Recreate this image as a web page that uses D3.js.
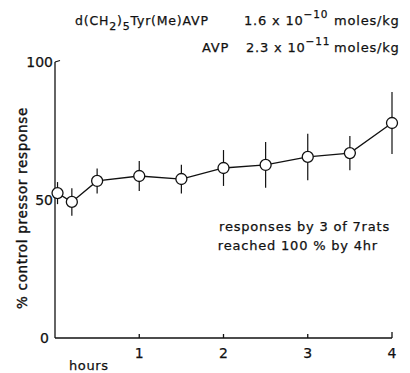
<!DOCTYPE html>
<html><head><meta charset="utf-8">
<script src="https://cdn.jsdelivr.net/npm/d3@7"></script>
<style>
body{margin:0;background:#fff;}
svg text{font-family:"DejaVu Sans",sans-serif;fill:#111;stroke:#111;stroke-width:0.25px;}
</style></head>
<body><div id="c"></div>
<script>
// data
const hours = [0.03, 0.2, 0.5, 1, 1.5, 2, 2.5, 3, 3.5, 4];
const response = [52.5, 49.3, 56.9, 58.7, 57.6, 61.6, 62.7, 65.6, 67.0, 77.9];
const sem = [4.0, 5.0, 4.5, 5.4, 5.2, 6.5, 8.3, 8.4, 6.2, 11.2];
const xTicks = [1, 2, 3, 4];
const yTicks = [0, 50, 100];

const W = 410, H = 373;
const svg = d3.select("#c").append("svg").attr("width", W).attr("height", H);

const x = d3.scaleLinear().domain([0, 4]).range([55, 392]);
const y = d3.scaleLinear().domain([0, 100]).range([338, 62]);

const ink = "#111";

// axes
svg.append("line").attr("x1", x(0)).attr("x2", x(0)).attr("y1", y(0)).attr("y2", y(100))
  .attr("stroke", ink).attr("stroke-width", 1.3);
svg.append("line").attr("x1", x(0)).attr("x2", x(0) + 5).attr("y1", y(100)).attr("y2", y(100) - 1.5)
  .attr("stroke", ink).attr("stroke-width", 1.3);
svg.append("line").attr("x1", x(0)).attr("x2", x(4)).attr("y1", y(0)).attr("y2", y(0))
  .attr("stroke", ink).attr("stroke-width", 1.3);
svg.selectAll(".xt").data(xTicks).enter().append("line")
  .attr("x1", d => x(d)).attr("x2", d => x(d)).attr("y1", y(0)).attr("y2", d => y(0) - (d === 4 ? 6 : 4))
  .attr("stroke", ink).attr("stroke-width", 1.3);

svg.selectAll(".xl").data(xTicks).enter().append("text")
  .attr("x", d => x(d)).attr("y", 358).attr("text-anchor", "middle")
  .attr("font-size", 14).text(d => d);
svg.selectAll(".yl").data(yTicks).enter().append("text")
  .attr("x", d => d === 0 ? 49 : 53).attr("y", d => y(d) + 5).attr("text-anchor", "end")
  .attr("font-size", 14).text(d => d);

svg.append("text").attr("x", 69).attr("y", 370).attr("font-size", 13).attr("letter-spacing", 0.6).text("hours");

svg.append("text").attr("transform", "translate(27,208) rotate(-90)")
  .attr("text-anchor", "middle").attr("font-size", 13.5).attr("letter-spacing", 0.7)
  .style("stroke-width", "0.4px")
  .text("% control pressor response");

// error bars
const g = svg.append("g");
g.selectAll(".eb").data(hours).enter().append("line")
  .attr("x1", d => x(d)).attr("x2", d => x(d))
  .attr("y1", (d, i) => y(response[i] + sem[i])).attr("y2", (d, i) => y(response[i] - sem[i]))
  .attr("stroke", ink).attr("stroke-width", 1.2);

const line = d3.line().x(d => x(d[0])).y(d => y(d[1]));
g.append("path").datum(hours.map((h, i) => [h, response[i]])).attr("d", line)
  .attr("fill", "none").attr("stroke", ink).attr("stroke-width", 1.3);

g.selectAll(".pt").data(hours).enter().append("circle")
  .attr("cx", d => x(d)).attr("cy", (d, i) => y(response[i])).attr("r", 5.5)
  .attr("fill", "#fff").attr("stroke", ink).attr("stroke-width", 1.3);

// title
const ty1 = 25, ty2 = 52;
const t1 = svg.append("text").attr("x", 75).attr("y", ty1).attr("font-size", 12.5).attr("letter-spacing", 0.8);
t1.append("tspan").text("d(CH");
t1.append("tspan").attr("dy", 5).attr("font-size", 11).text("2");
t1.append("tspan").attr("dy", -5).text(")");
t1.append("tspan").attr("dy", 5).attr("font-size", 11).text("5");
t1.append("tspan").attr("dy", -5).text("Tyr(Me)AVP");
const t1b = svg.append("text").attr("x", 244).attr("y", ty1).attr("font-size", 13).attr("letter-spacing", 0.8);
t1b.append("tspan").text("1.6 x 10");
t1b.append("tspan").attr("dy", -7).attr("font-size", 10.5).text("\u221210");
svg.append("text").attr("x", 334).attr("y", ty1).attr("font-size", 13).attr("letter-spacing", 0.8).text("moles/kg");

svg.append("text").attr("x", 202).attr("y", ty2).attr("font-size", 13).attr("letter-spacing", 0.8).text("AVP");
const t2b = svg.append("text").attr("x", 246).attr("y", ty2).attr("font-size", 13).attr("letter-spacing", 0.8);
t2b.append("tspan").text("2.3 x 10");
t2b.append("tspan").attr("dy", -7).attr("font-size", 10.5).text("\u221211");
svg.append("text").attr("x", 334).attr("y", ty2).attr("font-size", 13).attr("letter-spacing", 0.8).text("moles/kg");

// annotation
svg.append("text").attr("x", 390).attr("y", 231).attr("text-anchor", "end").attr("font-size", 13).attr("letter-spacing", 0.8)
  .text("responses by 3 of 7rats");
svg.append("text").attr("x", 378).attr("y", 250).attr("text-anchor", "end").attr("font-size", 13).attr("letter-spacing", 0.8)
  .text("reached 100 % by 4hr");
</script></body></html>
